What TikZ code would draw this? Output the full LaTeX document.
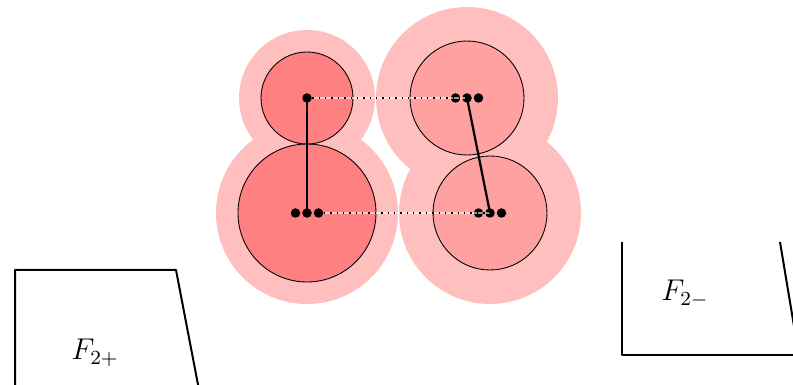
\documentclass[tikz,border=0pt]{standalone}
\usetikzlibrary{positioning}

\tikzset{
  halo/.style={fill=red!25},
  ballL/.style={draw,line width=0.35pt,fill=red!50},
  ballR/.style={draw,line width=0.35pt,fill=red!37},
  dot/.style={circle,fill,inner sep=0pt,minimum size=3.8pt},
  link/.style={line width=0.9pt},
  trackbg/.style={white,opacity=0.6,line width=0.45pt},
  track/.style={dotted,line width=0.55pt},
  wall/.style={line width=0.8pt,line join=round},
  tag/.style={font=\large}
}

\begin{document}
\begin{tikzpicture}[x=0.4pt,y=-0.4pt]
\clip (0,0) rectangle (793,385);
\useasboundingbox (0,0) rectangle (793,385);

% halos
\fill[halo] (307,98) circle (68);
\fill[halo] (307,213) circle (91);
\fill[halo] (467,98) circle (91);
\fill[halo] (490,213) circle (91);

% balls
\draw[ballL] (307,213) circle (69);
\draw[ballL] (307,98) circle (46);
\draw[ballR] (467,98) circle (57);
\draw[ballR] (490,213) circle (57);

% positions
\node[dot] (a1) at (307,98) {};
\node[dot] (b0) at (295.5,213) {};
\node[dot] (b1) at (307,213) {};
\node[dot] (b2) at (318.5,213) {};
\node[dot] (c0) at (455.5,98) {};
\node[dot] (c1) at (467,98) {};
\node[dot] (c2) at (478.5,98) {};
\node[dot] (d0) at (478.5,213) {};
\node[dot] (d1) at (490,213) {};
\node[dot] (d2) at (501.5,213) {};

\draw[trackbg] (a1) -- (c1.center);
\draw[track] (a1) -- (c1.center);
\draw[trackbg] (b2) -- (d1.center);
\draw[track] (b2) -- (d1.center);

\draw[link] (a1.center) -- (b1.center);
\draw[link] (c1.center) -- (d1.center);

% walls
\draw[wall] (15,395) -- (15,270) -- (176,270) -- (200,395);
\draw[wall] (622,242) -- (622,355) -- (800,355);
\draw[wall] (780,242) -- (800,362);
\node[tag] (fplus) at (95,353) {$F_{2+}$};
\node[tag] (fminus) at (685,294) {$F_{2-}$};
\end{tikzpicture}
\end{document}
